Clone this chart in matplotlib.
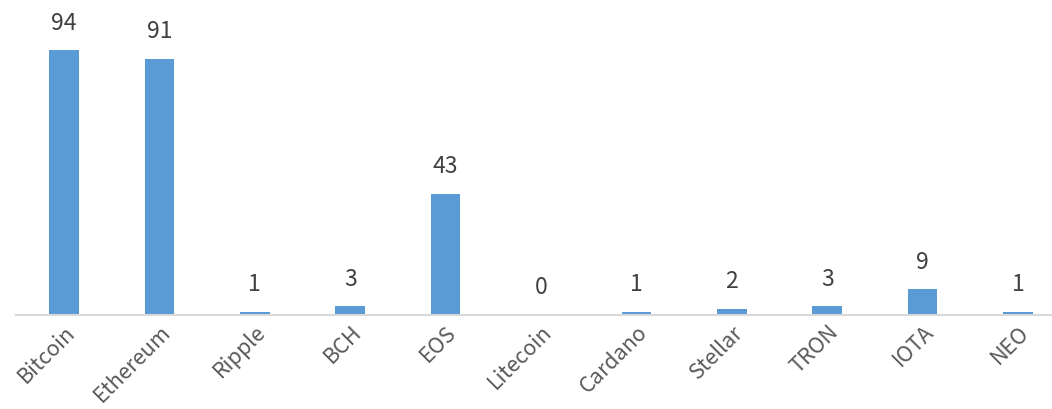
import matplotlib.pyplot as plt
import numpy as np

plt.rcParams['font.family'] = ['Noto Sans CJK SC', 'DejaVu Sans']

coins = ['Bitcoin', 'Ethereum', 'Ripple', 'BCH', 'EOS', 'Litecoin',
         'Cardano', 'Stellar', 'TRON', 'IOTA', 'NEO']
counts = [94, 91, 1, 3, 43, 0, 1, 2, 3, 9, 1]

fig = plt.figure(figsize=(10.52, 4.09), dpi=100)
# axis runs slightly past the right edge, like the source
ax = fig.add_axes([16.3 / 1052, 94.5 / 409, 1049.4 / 1052, 314.5 / 409])

x = np.arange(len(coins))
ax.bar(x, counts, width=0.31, color='#5B9BD5', zorder=2)

for xi, v in zip(x, counts):
    ax.text(xi, v + 5.5, str(v), ha='center', va='bottom',
            fontsize=16.5, color='#404040')

ax.set_xlim(-0.5, len(coins) - 0.5)
ax.set_ylim(0, 111.8)
ax.set_xticks(x)
ax.set_xticklabels(coins, rotation=45, ha='right', rotation_mode='anchor',
                   fontsize=15.5, color='#595959')
ax.tick_params(axis='x', length=0, pad=5)
ax.set_yticks([])
for s in ['top', 'right', 'left']:
    ax.spines[s].set_visible(False)
ax.spines['bottom'].set_color('#D9D9D9')
ax.spines['bottom'].set_linewidth(1.5)

fig.savefig('out.png', dpi=100)
